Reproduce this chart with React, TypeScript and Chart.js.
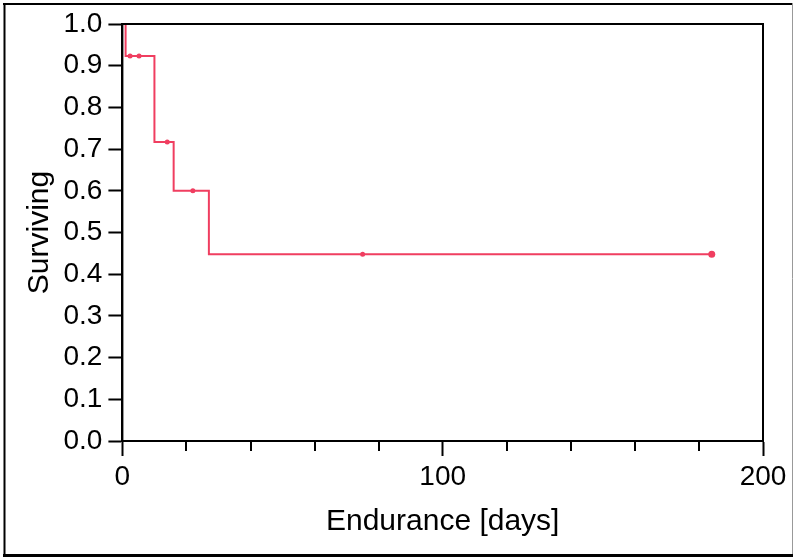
import React, { useEffect, useRef } from "react";
import { Chart, registerables } from "chart.js";

Chart.register(...registerables);

// Kaplan-Meier step points (event times and survival after the event)
const stepDays = [0, 1, 10, 16, 27, 184];
const stepSurvival = [1.0, 0.923, 0.717, 0.6, 0.448, 0.448];

// Censored observations
const censorDays = [2.4, 5.2, 14, 22, 75];
const censorSurvival = [0.923, 0.923, 0.717, 0.6, 0.448];

// Last censored observation (drawn larger)
const lastDays = [184];
const lastSurvival = [0.448];

const minorXTicks = [20, 40, 60, 80, 120, 140, 160, 180];

const xTitle = "Endurance [days]";
const yTitle = "Surviving";

const RED = "rgb(240,62,96)";
const FONT = "'Liberation Sans', Arial, sans-serif";

const framePlugin = {
  id: "frame",
  afterDraw(chart: any) {
    const { ctx, chartArea: a, scales } = chart;
    ctx.save();
    ctx.strokeStyle = "#000";
    ctx.lineWidth = 2;
    ctx.strokeRect(a.left, a.top, a.right - a.left, a.bottom - a.top);
    // minor x ticks
    const xs = scales.x;
    ctx.beginPath();
    minorXTicks.forEach((v) => {
      const px = Math.round(xs.getPixelForValue(v));
      ctx.moveTo(px, a.bottom);
      ctx.lineTo(px, a.bottom + 10);
    });
    ctx.stroke();
    // outer frame
    ctx.strokeStyle = "#000";
    ctx.lineWidth = 2;
    ctx.beginPath();
    ctx.moveTo(3, 4);
    ctx.lineTo(792, 4);
    ctx.moveTo(4.5, 3);
    ctx.lineTo(4.5, 556);
    ctx.stroke();
    ctx.lineWidth = 3;
    ctx.beginPath();
    ctx.moveTo(3, 555.5);
    ctx.lineTo(793, 555.5);
    ctx.stroke();
    ctx.strokeStyle = "#999";
    ctx.lineWidth = 1;
    ctx.beginPath();
    ctx.moveTo(792.5, 3);
    ctx.lineTo(792.5, 554);
    ctx.stroke();
    ctx.restore();
  },
};

export default function App() {
  const ref = useRef<HTMLCanvasElement | null>(null);

  useEffect(() => {
    if (!ref.current) return;
    const chart = new Chart(ref.current, {
      type: "scatter",
      data: {
        datasets: [
          {
            type: "line",
            data: stepDays.map((d, i) => ({ x: d, y: stepSurvival[i] })),
            stepped: true,
            borderColor: RED,
            borderWidth: 2,
            pointRadius: 0,
            fill: false,
          } as any,
          {
            data: censorDays.map((d, i) => ({ x: d, y: censorSurvival[i] })),
            showLine: false,
            pointRadius: 2.5,
            pointBackgroundColor: RED,
            pointBorderColor: RED,
            pointBorderWidth: 0,
          },
          {
            data: lastDays.map((d, i) => ({ x: d, y: lastSurvival[i] })),
            showLine: false,
            pointRadius: 3.5,
            pointBackgroundColor: RED,
            pointBorderColor: RED,
            pointBorderWidth: 0,
          },
        ],
      },
      options: {
        responsive: false,
        animation: false,
        layout: { padding: { top: 24, right: 30, left: 0, bottom: 0 } },
        plugins: { legend: { display: false }, tooltip: { enabled: false } },
        scales: {
          x: {
            type: "linear",
            min: 0,
            max: 200,
            afterFit: (s: any) => {
              s.height = 116;
            },
            ticks: {
              stepSize: 100,
              color: "#000",
              padding: 4,
              font: { family: FONT, size: 28 },
              maxRotation: 0,
            },
            grid: {
              display: true,
              drawOnChartArea: false,
              drawTicks: true,
              tickLength: 15,
              tickColor: "#000",
              tickWidth: 2,
            },
            border: { display: true, color: "#000", width: 2 },
            title: {
              display: true,
              text: xTitle,
              color: "#000",
              font: { family: FONT, size: 30, lineHeight: 1 },
              padding: { top: 0, bottom: 20 },
            },
          },
          y: {
            type: "linear",
            min: 0,
            max: 1,
            afterFit: (s: any) => {
              s.width = 122.4;
            },
            ticks: {
              stepSize: 0.1,
              color: "#000",
              padding: 6,
              font: { family: FONT, size: 28 },
              callback: (v: any) => Number(v).toFixed(1),
            },
            grid: {
              display: true,
              drawOnChartArea: false,
              drawTicks: true,
              tickLength: 14,
              tickColor: "#000",
              tickWidth: 2,
            },
            border: { display: true, color: "#000", width: 2 },
            title: {
              display: true,
              text: yTitle,
              color: "#000",
              font: { family: FONT, size: 30, lineHeight: 1 },
              padding: { top: 25, bottom: 0 },
            },
          },
        },
      },
      plugins: [framePlugin],
    });
    return () => chart.destroy();
  }, []);

  return (
    <div style={{ position: "fixed", left: 0, top: 0, width: 793, height: 557, background: "#fff" }}>
      <canvas ref={ref} width={793} height={557} style={{ display: "block" }} />
    </div>
  );
}
